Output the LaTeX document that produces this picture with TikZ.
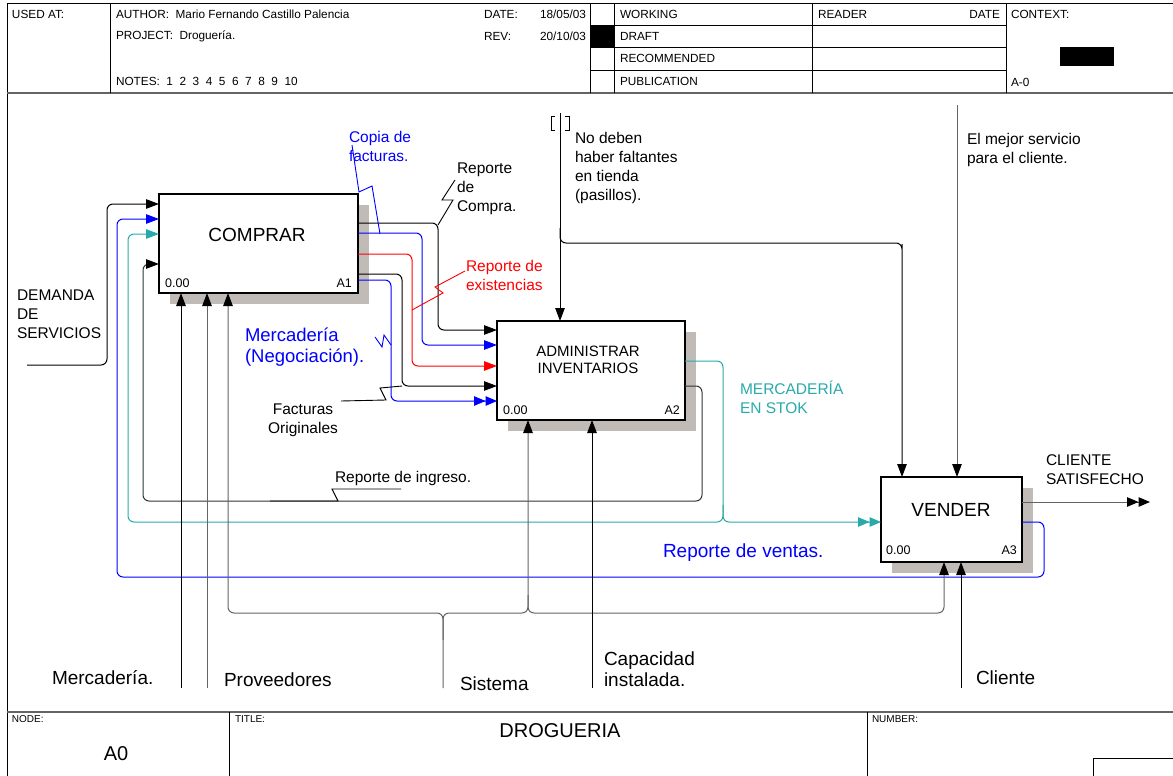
\documentclass[tikz,border=0pt]{standalone}
\usepackage{fontspec}
\setmainfont{Liberation Sans}
\usetikzlibrary{arrows.meta,calc}
\definecolor{shadowgray}{RGB}{192,187,182}
\definecolor{idblue}{RGB}{0,0,255}
\definecolor{idred}{RGB}{255,0,0}
\definecolor{idteal}{RGB}{40,170,170}
\definecolor{idgray}{RGB}{100,100,100}
\begin{document}
\begin{tikzpicture}[x=1pt,y=-1pt,
  box/.style={draw=black, line width=2pt, fill=white, inner sep=0pt, outer sep=0pt, anchor=north west},
  conn/.style={line width=1pt, rounded corners=6pt},
  arr/.style={-{Triangle[length=13pt,width=9.5pt]}},
  garr/.style={-{Triangle[length=13pt,width=9.5pt,color=black]}},
  darr/.style={-{Triangle[length=11.5pt,width=9.5pt]Triangle[length=11.5pt,width=9.5pt]}},
  gdarr/.style={-{Triangle[length=11.5pt,width=9.5pt,color=black]Triangle[length=11.5pt,width=9.5pt,color=black]}},
  lead/.style={line width=0.9pt},
  txt/.style={inner sep=0pt, outer sep=0pt, anchor=west, align=left},
  hdr/.style={txt, font=\fontsize{11.8}{13}\selectfont},
  tiny/.style={txt, font=\fontsize{10}{12}\selectfont},
  lab/.style={txt, font=\fontsize{15.5}{19}\selectfont},
  big/.style={txt, font=\fontsize{19}{21}\selectfont},
  boxno/.style={inner sep=0pt, font=\fontsize{12.5}{14}\selectfont},
  heavy/.style={line width=2pt, draw=idgray}]
\useasboundingbox (0,0) rectangle (1173,776);
\fill[white] (0,0) rectangle (1173,776);

% ---------- frame / header ----------
\draw[line width=1pt] (7,776) -- (7,4) -- (1173,4);
\draw[heavy] (7,93) -- (1173,93);
\draw[line width=1pt] (110,4) -- (110,93) (590,4) -- (590,93) (614,4) -- (614,93)
  (812,4) -- (812,93) (1006,4) -- (1006,93);
\draw[line width=1pt] (590,26) -- (1006,26) (590,48) -- (1006,48) (590,71) -- (1006,71);
\fill[black] (590,26) rectangle (614,48);
\fill[black] (1060,47) rectangle (1114,66);
\node[hdr] (usedat) at (12,14.5) {USED AT:};
\node[hdr] (author) at (116,14.5) {AUTHOR:\ \ Mario Fernando Castillo Palencia};
\node[hdr] (project) at (116,36) {PROJECT:\ \ Droguería.};
\node[hdr] (notes) at (116,81) {NOTES:\ \ 1\ \ 2\ \ 3\ \ 4\ \ 5\ \ 6\ \ 7\ \ 8\ \ 9\ \ 10};
\node[hdr] (datel) at (484,14.5) {DATE:};
\node[hdr, anchor=east] (datev) at (586,14.5) {18/05/03};
\node[hdr] (revl) at (484,36) {REV:};
\node[hdr, anchor=east] (revv) at (586,36) {20/10/03};
\node[hdr] (working) at (620,14.5) {WORKING};
\node[hdr] (draft) at (620,36) {DRAFT};
\node[hdr] (recom) at (620,58) {RECOMMENDED};
\node[hdr] (public) at (620,81) {PUBLICATION};
\node[hdr] (reader) at (818,14.5) {READER};
\node[hdr, anchor=east] (rdate) at (1000,14.5) {DATE};
\node[hdr] (context) at (1011,14.5) {CONTEXT:};
\node[hdr] (aminus) at (1011,82) {A-0};

% ---------- footer ----------
\draw[heavy] (7,712) -- (1173,712);
\draw[line width=1pt] (229,712) -- (229,776) (867,712) -- (867,776);
\draw[line width=1pt] (1093,758) -- (1173,758) (1093,758) -- (1093,776);
\node[tiny] (nodel) at (12,719) {NODE:};
\node[tiny] (titlel) at (235,719) {TITLE:};
\node[tiny] (numberl) at (872,719) {NUMBER:};
\node[font=\fontsize{20}{22}\selectfont, inner sep=0pt] (title) at (560,731) {DROGUERIA};
\node[font=\fontsize{20}{22}\selectfont, inner sep=0pt] (nodeid) at (116,754) {A0};

% ---------- shadows ----------
\fill[shadowgray] (170,205) rectangle (369,304);
\fill[shadowgray] (508,332) rectangle (696,431);
\fill[shadowgray] (892,488) rectangle (1033,573);

% ---------- boxes ----------
\node[box, minimum width=199pt, minimum height=99pt] (A1) at (159,194) {};
\node[box, minimum width=188pt, minimum height=99pt] (A2) at (497,321) {};
\node[box, minimum width=141pt, minimum height=85pt] (A3) at (881,477) {};
\node[font=\fontsize{19}{21}\selectfont, inner sep=0pt] (A1name) at (257,235) {COMPRAR};
\node[boxno, anchor=west] (A1num) at (165,283) {0.00};
\node[boxno, anchor=east] (A1id) at (352,283) {A1};
\node[font=\fontsize{15}{17.5}\selectfont, inner sep=0pt, align=center] (A2name) at (588,360) {ADMINISTRAR\\INVENTARIOS};
\node[boxno, anchor=west] (A2num) at (503,410) {0.00};
\node[boxno, anchor=east] (A2id) at (680,410) {A2};
\node[font=\fontsize{19}{21}\selectfont, inner sep=0pt] (A3name) at (951,510) {VENDER};
\node[boxno, anchor=west] (A3num) at (886,550) {0.00};
\node[boxno, anchor=east] (A3id) at (1017,550) {A3};

% ---------- coordinates of free ends ----------
\coordinate (dem) at (27,365);
\coordinate (c1) at (560,113);
\coordinate (c2) at (957,105);
\coordinate (m1) at (181,688);
\coordinate (m2) at (207,688);
\coordinate (m3) at (443,688);
\coordinate (m4) at (592,688);
\coordinate (m5) at (961,688);
\coordinate (out) at (1150,502);

% ---------- inputs to COMPRAR ----------
\draw[conn, arr] (dem) -- (107,365) -- (107,204) -- (A1.west |- 0,204);
\draw[conn, idblue, arr] (A3.east |- 0,522) -- (1044,522) -- (1044,577) -- (117,577) -- (117,219) -- (A1.west |- 0,219);
\draw[conn, idteal, darr] (A2.east |- 0,361) -- (723,361) -- (723,522) -- (A3.west |- 0,522);
\draw[conn, idteal, arr] (723,505) -- (723,522) -- (128,522) -- (128,234) -- (A1.west |- 0,234);
\draw[conn, draw=black!80, garr] (A2.east |- 0,386) -- (702,386) -- (702,501) -- (143,501) -- (143,264) -- (A1.west |- 0,264);

% ---------- COMPRAR -> ADMINISTRAR ----------
\draw[conn, arr] (A1.east |- 0,223) -- (438,223) -- (438,330) -- (A2.west |- 0,330);
\draw[conn, idblue, arr] (A1.east |- 0,233) -- (422,233) -- (422,345) -- (A2.west |- 0,345);
\draw[conn, idred, arr] (A1.east |- 0,254) -- (412,254) -- (412,366) -- (A2.west |- 0,366);
\draw[conn, arr] (A1.east |- 0,274) -- (402,274) -- (402,386) -- (A2.west |- 0,386);
\draw[conn, idblue, darr] (A1.east |- 0,280) -- (391,280) -- (391,401) -- (A2.west |- 0,401);

% ---------- controls ----------
\draw[conn, arr] (c1) -- (c1 |- A2.north);
\draw[conn, arr] (560,228) -- (560,243) -- (902,243) -- (902,250) -- (902,0 |- A3.north);
\draw[conn, draw=idgray, garr] (c2) -- (c2 |- A3.north);
\draw[line width=0.8pt] (555,116) -- (551,116) -- (551,130) -- (555,130);
\draw[line width=0.8pt] (565,116) -- (569,116) -- (569,130) -- (565,130);

% ---------- mechanisms ----------
\draw[conn, arr] (m1) -- (m1 |- A1.south);
\draw[conn, draw=idgray, garr] (m2) -- (m2 |- A1.south);
\draw[conn, draw=idgray, garr] (m3) -- (443,613) -- (228,613) -- (228,0 |- A1.south);
\draw[conn, draw=idgray, garr] (443,640) -- (443,613) -- (528,613) -- (528,0 |- A2.south);
\draw[conn, draw=idgray, garr] (528,595) -- (528,613) -- (944,613) -- (944,0 |- A3.south);
\draw[conn, arr] (m4) -- (m4 |- A2.south);
\draw[conn, arr] (m5) -- (m5 |- A3.south);

% ---------- output ----------
\draw[conn, draw=idgray, gdarr] (A3.east |- out) -- (out);

% ---------- labels and leaders ----------
\node[lab] (demanda) at (17,314) {DEMANDA\\DE\\SERVICIOS};
\node[lab, text=idblue] (copia) at (349,146.5) {Copia de\\facturas.};
\draw[lead, idblue] (352,145) -- (359,192) -- (372,186) -- (380,234);
\node[lab] (rcompra) at (457,189) {Reporte\\de\\Compra.};
\draw[lead] (455,180) -- (442,200) -- (453,200) -- (438,225);
\node[lab, text=idred] (rexist) at (466,275) {Reporte de\\existencias};
\draw[lead, idred] (465,271) -- (435,287) -- (443,293) -- (412,310);
\node[big, text=idblue, font=\fontsize{18.5}{21}\selectfont] (negoc) at (245,347.5) {Mercadería\\(Negociación).};
\draw[lead, idblue] (375,337) -- (382,347) -- (384,335) -- (391,345);
\node[lab, align=center, anchor=center] (factorig) at (303,420) {Facturas\\Originales};
\draw[lead] (341,401) -- (386,400) -- (380,388) -- (402,386);
\node[lab] (nodeben) at (575,167.5) {No deben\\haber faltantes\\en tienda\\(pasillos).};
\node[lab] (mejor) at (967,149.5) {El mejor servicio\\para el cliente.};
\node[lab, text=idteal] (stok) at (740,397) {MERCADERÍA\\EN STOK};
\node[lab] (ringreso) at (335,478) {Reporte de ingreso.};
\draw[lead] (270,501) -- (338,501) -- (332,489) -- (401,489);
\node[lab] (clisat) at (1046,469.5) {CLIENTE\\SATISFECHO};
\node[big, text=idblue] (rventas) at (663,553) {Reporte de ventas.};

\node[big] (lmerc) at (52,678) {Mercadería.};
\node[big] (lprov) at (224,680) {Proveedores};
\node[big] (lsist) at (460,684) {Sistema};
\node[big] (lcap) at (604,669) {Capacidad\\instalada.};
\node[big] (lcli) at (976,678) {Cliente};
\end{tikzpicture}
\end{document}
